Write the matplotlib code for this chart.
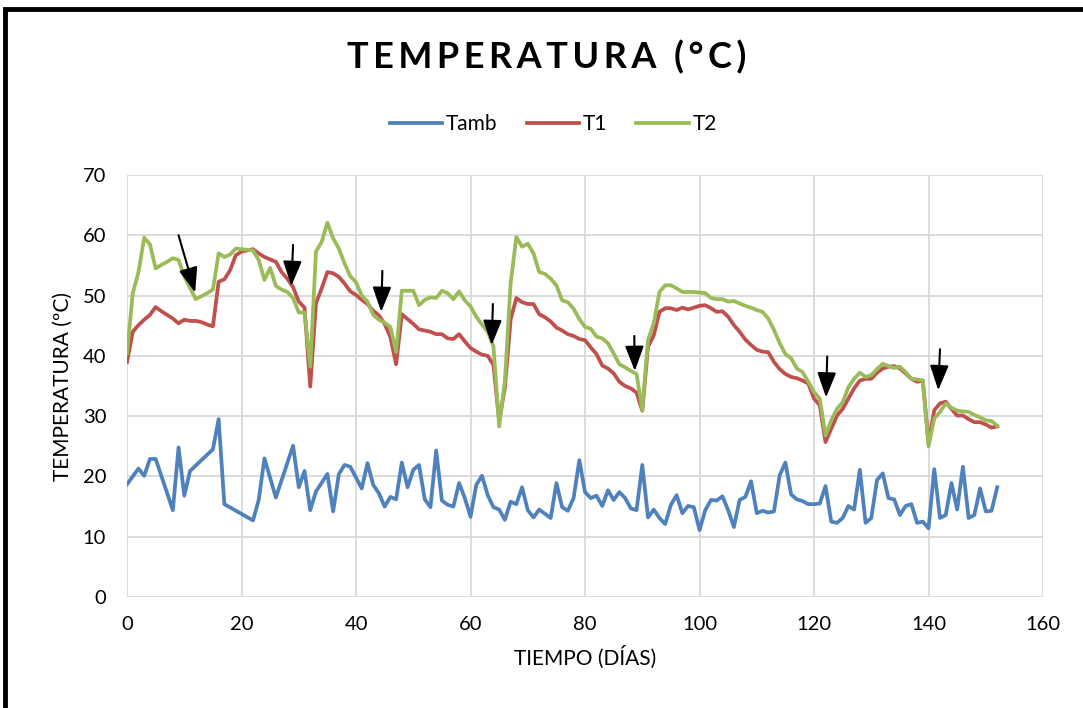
import matplotlib
matplotlib.use("Agg")
import matplotlib.pyplot as plt
from matplotlib.patches import Rectangle

plt.rcParams['font.family'] = ['Lato', 'DejaVu Sans']

# Tamb readings (irregular days)
tamb_days = [0, 2, 3, 4, 5, 8, 9, 10, 11, 15, 16, 17, 22, 23, 24, 26, 29, 30, 31, 32,
             33, 35, 36, 37, 38, 39, 41, 42, 43, 44, 45, 46, 47, 48, 49, 50, 51, 52, 53, 54,
             55, 56, 57, 58, 59, 60, 61, 62, 63, 64, 65, 66, 67, 68, 69, 70, 71, 72, 73, 74,
             75, 76, 77, 78, 79, 80, 81, 82, 83, 84, 85, 86, 87, 88, 89, 90, 91, 92, 93, 94,
             95, 96, 97, 98, 99, 100, 101, 102, 103, 104, 105, 106, 107, 108, 109, 110, 111, 112, 113, 114,
             115, 116, 117, 118, 119, 120, 121, 122, 123, 124, 125, 126, 127, 128, 129, 130, 131, 132, 133, 134,
             135, 136, 137, 138, 139, 140, 141, 142, 143, 144, 145, 146, 147, 148, 149, 150, 151, 152]
tamb = [18.7, 21.3, 20.1, 22.9, 22.9, 14.4, 24.8, 16.8, 20.9, 24.5, 29.5, 15.4, 12.7, 16.1, 23.0, 16.5, 25.1, 18.2, 20.9, 14.4,
        17.5, 20.4, 14.2, 20.4, 21.9, 21.6, 18.0, 22.2, 18.6, 17.2, 15.0, 16.6, 16.2, 22.3, 18.2, 21.1, 21.9, 16.2, 14.9, 24.3,
        16.0, 15.3, 15.0, 18.9, 16.4, 13.3, 18.6, 20.1, 16.9, 14.9, 14.5, 12.8, 15.8, 15.4, 18.2, 14.4, 13.2, 14.5, 13.8, 13.1,
        18.9, 14.9, 14.3, 16.4, 22.7, 17.4, 16.4, 16.8, 15.1, 17.7, 16.1, 17.4, 16.4, 14.7, 14.4, 21.9, 13.2, 14.5, 13.1, 12.1,
        15.3, 16.9, 13.9, 15.1, 14.9, 11.1, 14.4, 16.1, 16.0, 16.7, 14.4, 11.6, 16.1, 16.6, 19.2, 13.9, 14.3, 14.0, 14.2, 20.2,
        22.3, 17.0, 16.2, 15.9, 15.4, 15.4, 15.5, 18.4, 12.5, 12.3, 13.1, 15.1, 14.5, 21.1, 12.3, 13.1, 19.4, 20.5, 16.4, 16.2,
        13.6, 15.1, 15.4, 12.3, 12.5, 11.4, 21.2, 13.1, 13.6, 18.9, 14.5, 21.6, 13.1, 13.6, 18.0, 14.2, 14.3, 18.2]

# T1 / T2 daily readings, days 0..152
t_days = list(range(153))
t1 = [39.0, 44.0, 45.1, 46.0, 46.8, 48.1, 47.4, 46.8, 46.2, 45.4,
      46.0, 45.8, 45.8, 45.6, 45.2, 44.9, 52.3, 52.7, 54.2, 56.7,
      57.3, 57.5, 57.7, 57.0, 56.4, 56.0, 55.6, 53.9, 52.8, 51.4,
      49.0, 48.0, 34.9, 48.7, 51.2, 53.9, 53.7, 53.1, 52.0, 50.7,
      50.1, 49.3, 48.6, 47.5, 46.7, 45.3, 43.1, 38.6, 46.9, 46.1,
      45.3, 44.4, 44.2, 44.0, 43.6, 43.6, 42.9, 42.8, 43.6, 42.4,
      41.3, 40.7, 40.2, 40.0, 38.5, 29.2, 34.7, 46.0, 49.6, 48.9,
      48.6, 48.6, 46.9, 46.4, 45.7, 44.7, 44.2, 43.6, 43.3, 42.8,
      42.6, 41.4, 40.3, 38.4, 37.9, 37.1, 35.7, 35.0, 34.6, 33.9,
      30.9, 41.5, 43.4, 47.3, 47.9, 47.9, 47.6, 48.0, 47.7, 48.0,
      48.3, 48.4, 47.9, 47.3, 47.4, 46.5, 45.1, 44.0, 42.7, 41.8,
      41.0, 40.7, 40.6, 39.0, 37.8, 37.0, 36.5, 36.3, 35.9, 35.4,
      32.9, 31.8, 25.7, 27.9, 30.1, 31.2, 32.9, 34.6, 35.9, 36.2,
      36.2, 37.2, 37.9, 38.2, 38.3, 37.9, 37.1, 36.2, 35.7, 35.9,
      25.5, 31.0, 32.1, 32.4, 31.2, 30.1, 30.1, 29.5, 29.0, 29.0,
      28.6, 28.1, 28.3]
t2 = [40.4, 50.4, 53.9, 59.6, 58.5, 54.5, 55.1, 55.6, 56.2, 55.9,
      53.2, 51.3, 49.4, 49.9, 50.4, 51.0, 57.0, 56.4, 56.8, 57.8,
      57.7, 57.6, 57.5, 55.9, 52.6, 54.6, 51.6, 51.0, 50.6, 49.6,
      47.2, 47.2, 38.2, 57.3, 58.9, 62.1, 59.5, 57.8, 55.3, 53.2,
      52.2, 50.0, 49.0, 46.8, 46.0, 45.5, 44.8, 40.6, 50.8, 50.8,
      50.8, 48.4, 49.3, 49.7, 49.6, 50.8, 50.4, 49.4, 50.7, 49.2,
      48.2, 46.5, 45.2, 44.0, 41.6, 28.3, 35.8, 52.0, 59.7, 58.1,
      58.6, 57.0, 53.9, 53.6, 52.8, 51.7, 49.2, 48.9, 47.8, 46.1,
      44.8, 44.5, 43.2, 42.9, 42.1, 40.4, 38.6, 38.1, 37.5, 37.0,
      31.0, 42.6, 45.4, 50.6, 51.7, 51.7, 51.2, 50.6, 50.6, 50.6,
      50.5, 50.4, 49.6, 49.4, 49.4, 49.0, 49.1, 48.7, 48.3, 48.0,
      47.6, 47.3, 46.2, 44.3, 42.1, 40.3, 39.6, 37.9, 37.3, 35.7,
      34.0, 32.9, 26.8, 29.3, 31.2, 32.3, 34.8, 36.2, 37.2, 36.5,
      36.8, 37.8, 38.7, 38.3, 38.0, 38.2, 37.3, 36.2, 36.1, 35.9,
      25.0, 29.6, 30.7, 32.1, 31.4, 30.9, 30.8, 30.7, 30.2, 29.8,
      29.3, 29.2, 28.4]

# arrows marking the drops: (tail day, tail temp, tip day, tip temp)
arrows = [(9.0, 60.0, 11.9, 50.5), (29.0, 58.4, 28.7, 51.6), (44.6, 54.1, 44.4, 47.3),
          (63.9, 48.6, 63.7, 41.8), (88.6, 43.3, 88.7, 37.5), (122.3, 39.9, 122.1, 33.1),
          (142.0, 41.1, 141.7, 34.3)]

fig = plt.figure(figsize=(10.83, 7.08), dpi=100)
ax = fig.add_axes([0.1173, 0.1568, 0.8458, 0.596])

ax.plot(tamb_days, tamb, color='#4F81BD', lw=2.7, label='Tamb', solid_joinstyle='round')
ax.plot(t_days, t1, color='#C0504D', lw=2.7, label='T1', solid_joinstyle='round')
ax.plot(t_days, t2, color='#9BBB59', lw=2.7, label='T2', solid_joinstyle='round')

for x0, y0, x1, y1 in arrows:
    ax.annotate('', xy=(x1, y1), xytext=(x0, y0),
                arrowprops=dict(arrowstyle='-|>,head_width=0.32,head_length=0.85',
                                mutation_scale=18, color='black', lw=1.5,
                                shrinkA=0, shrinkB=0))

ax.set_xlim(0, 160)
ax.set_ylim(0, 70)
ax.set_xticks(range(0, 161, 20))
ax.set_yticks(range(0, 71, 10))
ax.grid(True, color='#D9D9D9', lw=1.3)
ax.set_axisbelow(True)
for s in ax.spines.values():
    s.set_visible(False)
ax.tick_params(length=0, labelsize=14.5)
ax.tick_params(axis='y', pad=15)
ax.tick_params(axis='x', pad=14)
ax.set_xlabel('TIEMPO (DÍAS)', fontsize=15, labelpad=9)
ax.set_ylabel('TEMPERATURA (ºC)', fontsize=15, labelpad=7)

title = '\u2009'.join('TEMPERATURA') + '  ' + '\u2009'.join('(°C)')
fig.text(0.505, 0.92, title, ha='center', va='center',
         fontsize=26, fontweight='bold')
fig.legend(loc='center', bbox_to_anchor=(0.511, 0.825), ncol=3, frameon=False,
           fontsize=15, handlelength=2.5, columnspacing=1.4, handletextpad=0.2)

# thick frame cut at the image edge
fig.add_artist(Rectangle((5 / 1083, -0.2), 1.3, 1.2 - 9 / 708,
                         transform=fig.transFigure, fill=False, lw=3.5,
                         edgecolor='black', clip_on=False))

fig.savefig('out.png', dpi=100)
